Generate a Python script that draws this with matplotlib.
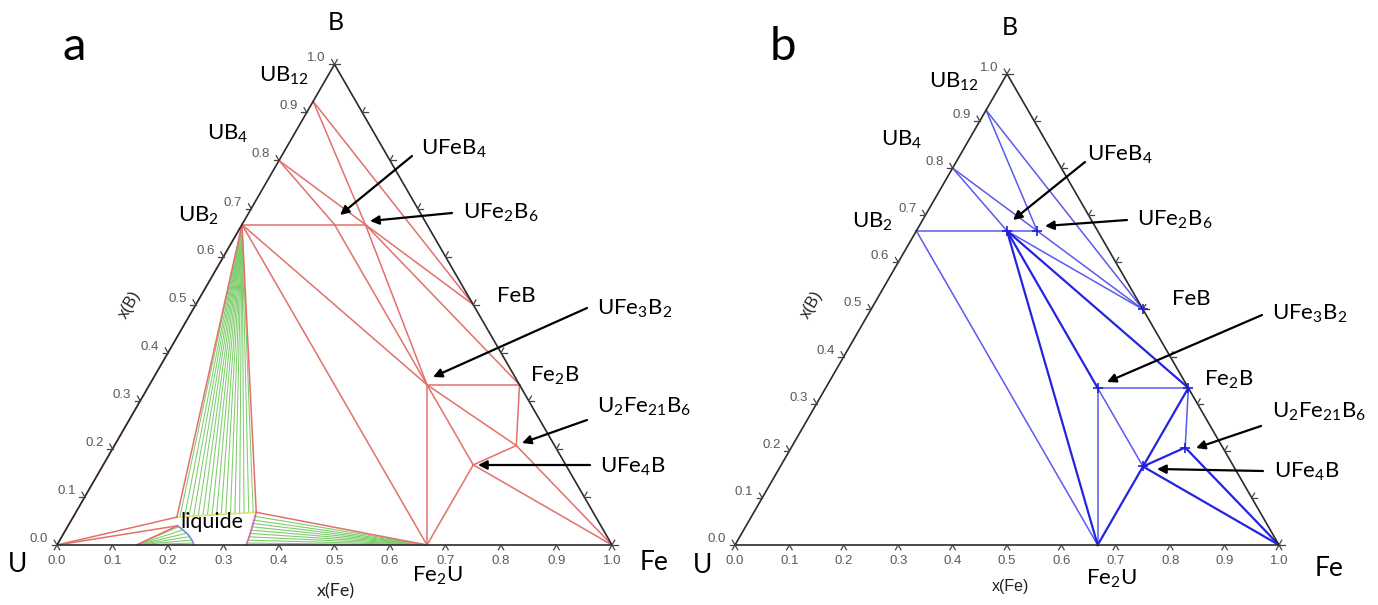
import numpy as np
import matplotlib
matplotlib.use('Agg')
import matplotlib.pyplot as plt

plt.rcParams['mathtext.fontset'] = 'custom'
plt.rcParams['mathtext.rm'] = 'Lato'
plt.rcParams['mathtext.it'] = 'Lato:italic'
plt.rcParams['font.family'] = ['Lato', 'DejaVu Sans']

# ---------------- data: phase compositions (x(Fe), x(B)) ----------------
phase_names = ['U', 'Fe', 'B', 'UB12', 'UB4', 'UB2', 'UFeB4', 'UFe2B6', 'FeB',
               'Fe2B', 'UFe3B2', 'U2Fe21B6', 'UFe4B', 'Fe2U', 'U6Fe',
               'L1', 'L2', 'L3']
phase_xfe = [0.0, 1.0, 0.0, 0.0, 0.0, 0.0, 1/6, 2/9, 0.5,
             2/3, 0.5, 21/29, 2/3, 2/3, 1/7,
             0.187, 0.197, 0.325]
phase_xb = [0.0, 0.0, 1.0, 12/13, 0.8, 2/3, 2/3, 2/3, 0.5,
            1/3, 1/3, 6/29, 1/6, 0.0, 0.0,
            0.058, 0.040, 0.068]

# panel a (calculated) tie lines
tie_a = [('UB12', 'UFe2B6'), ('UB12', 'FeB'), ('UB4', 'UFeB4'), ('UB4', 'UFe2B6'),
         ('UB2', 'UFe2B6'), ('UFe2B6', 'FeB'), ('UFe2B6', 'Fe2B'), ('UFe2B6', 'UFe3B2'),
         ('UFeB4', 'UFe3B2'), ('UB2', 'UFe3B2'), ('UB2', 'Fe2U'), ('UFe3B2', 'Fe2U'),
         ('UFe3B2', 'Fe2B'), ('UFe3B2', 'U2Fe21B6'), ('UFe3B2', 'UFe4B'),
         ('Fe2B', 'U2Fe21B6'), ('U2Fe21B6', 'UFe4B'), ('U2Fe21B6', 'Fe'),
         ('UFe4B', 'Fe'), ('UFe4B', 'Fe2U'),
         ('U', 'UB2'), ('U', 'L1'), ('U', 'L2'), ('U6Fe', 'L2'), ('UB2', 'L1'),
         ('UB2', 'L3'), ('L3', 'Fe2U')]

# green tie lines of the liquid-containing two-phase regions
fan_ub2_xfe = [0.192, 0.200, 0.208, 0.216, 0.224, 0.232, 0.240, 0.248, 0.256,
               0.264, 0.272, 0.280, 0.288, 0.296, 0.304, 0.312, 0.320]
fan_ub2_xb = [0.059, 0.060, 0.060, 0.061, 0.061, 0.062, 0.062, 0.063, 0.063,
              0.064, 0.064, 0.065, 0.065, 0.066, 0.066, 0.067, 0.067]
fan_fe2u_xfe = [0.325, 0.327, 0.329, 0.331, 0.333, 0.335, 0.337, 0.339, 0.340]
fan_fe2u_xb = [0.060, 0.052, 0.045, 0.038, 0.031, 0.024, 0.017, 0.010, 0.004]
fan_u6fe_xfe = [0.200, 0.210, 0.220, 0.229, 0.236, 0.241]
fan_u6fe_xb = [0.038, 0.031, 0.024, 0.017, 0.010, 0.004]

# liquid boundaries
liq_top_xfe = [0.187, 0.325]
liq_top_xb = [0.058, 0.068]
liq_left_xfe = [0.197, 0.212, 0.225, 0.236, 0.243, 0.246]
liq_left_xb = [0.040, 0.031, 0.022, 0.012, 0.005, 0.0]
liq_right_xfe = [0.325, 0.330, 0.334, 0.338, 0.341]
liq_right_xb = [0.068, 0.050, 0.033, 0.016, 0.0]

# panel b (experimental) tie lines
thin_b = [('UB12', 'UFe2B6'), ('UB12', 'FeB'), ('UB4', 'UFeB4'), ('UB4', 'UFe2B6'),
          ('UB2', 'UFe2B6'), ('UFe2B6', 'FeB'), ('UFeB4', 'FeB'), ('UB2', 'Fe2U'),
          ('UFe3B2', 'Fe2B'), ('UFe3B2', 'Fe2U'), ('UFe3B2', 'UFe4B'),
          ('Fe2B', 'U2Fe21B6')]
thick_b = [('UFeB4', 'Fe2U'), ('UFeB4', 'UFe3B2'), ('UFeB4', 'Fe2B'),
           ('Fe2B', 'UFe4B'), ('U2Fe21B6', 'UFe4B'), ('U2Fe21B6', 'Fe'),
           ('UFe4B', 'Fe'), ('UFe4B', 'Fe2U')]
nodes_b = ['UFeB4', 'UFe2B6', 'FeB', 'Fe2B', 'UFe3B2', 'U2Fe21B6', 'UFe4B']

tick_values = [0.0, 0.1, 0.2, 0.3, 0.4, 0.5, 0.6, 0.7, 0.8, 0.9, 1.0]
tick_labels = ['0.0', '0.1', '0.2', '0.3', '0.4', '0.5', '0.6', '0.7', '0.8', '0.9', '1.0']

# ---------------- helpers ----------------
comp = {n: (f, b) for n, f, b in zip(phase_names, phase_xfe, phase_xb)}
S3 = np.sqrt(3) / 2


def tern(xfe, xb):
    xfe = np.asarray(xfe, float)
    xb = np.asarray(xb, float)
    return xfe + xb / 2, xb * S3


W, H = 1378, 605
fig = plt.figure(figsize=(W / 100, H / 100), dpi=100)


class Panel:
    def __init__(self, x0, x1, ux, uy, s):
        self.ux, self.uy, self.s = ux, uy, s
        self.ax = fig.add_axes([x0 / W, 0, (x1 - x0) / W, 1])
        self.ax.set_xlim((x0 - ux) / s, (x1 - ux) / s)
        self.ax.set_ylim((uy - H) / s, uy / s)
        self.ax.axis('off')

    def p(self, px, py):
        return ((px - self.ux) / self.s, (self.uy - py) / self.s)


def draw_frame(P, xlab_px, xlab_size, xlab_font, xb_px):
    ax, s = P.ax, P.s
    X, Y = tern([0, 1, 0, 0], [0, 0, 1, 0])
    ax.plot(X, Y, color='#2a2a2a', lw=1.2, zorder=5, solid_capstyle='round')
    L = 5.5 / s
    tk = dict(color='#444444', lw=0.9, zorder=6)
    for v, lab in zip(tick_values, tick_labels):
        for (xf, xb, angs) in [(v, 0.0, (240, 300)), (0.0, v, (120, 180)),
                               (1 - v, v, (0, 60))]:
            x, y = tern(xf, xb)
            for a in angs:
                r = np.radians(a)
                ax.plot([x, x + L * np.cos(r)], [y, y + L * np.sin(r)], **tk)
        x, y = tern(v, 0.0)
        ax.text(x, y - 16 / s, lab, ha='center', va='center', fontsize=9.5,
                color='#5a5a5a', family='Liberation Sans')
        x, y = tern(0.0, v)
        ax.text(x - 9 / s, y + 6 / s, lab, ha='right', va='center', fontsize=9.5,
                color='#5a5a5a', family='Liberation Sans')
    ax.text(*P.p(*xlab_px), 'x(Fe)', ha='center', va='center', fontsize=xlab_size,
            color='#222222', family=xlab_font)
    ax.text(*P.p(*xb_px), 'x(B)', ha='center', va='center', fontsize=11.5,
            color='#222222', family='Liberation Sans', rotation=60)


def seg(ax, a, b, **kw):
    X, Y = tern([comp[a][0], comp[b][0]], [comp[a][1], comp[b][1]])
    ax.plot(X, Y, **kw)


def label(P, txt, px, py, size=16, **kw):
    P.ax.text(*P.p(px, py), txt, ha='left', va='baseline', fontsize=size,
              color='black', **kw)


def arrow(P, frm, to):
    P.ax.annotate('', xy=P.p(*to), xytext=P.p(*frm),
                  arrowprops=dict(arrowstyle='-|>', color='black', lw=1.6,
                                  mutation_scale=13, shrinkA=0, shrinkB=0),
                  zorder=8)


# ================= panel a =================
A = Panel(0, 689, 57, 545, 555)
axa = A.ax
red = '#e3706c'
green = '#7fcc6c'
# green tie lines
ub2 = comp['UB2']
for xf, xb in zip(fan_ub2_xfe, fan_ub2_xb):
    X, Y = tern([ub2[0], xf], [ub2[1], xb])
    axa.plot(X, Y, color=green, lw=0.75, zorder=2)
fe2u = comp['Fe2U']
for xf, xb in zip(fan_fe2u_xfe, fan_fe2u_xb):
    X, Y = tern([fe2u[0], xf], [fe2u[1], xb])
    axa.plot(X, Y, color=green, lw=0.8, zorder=2)
u6 = comp['U6Fe']
for xf, xb in zip(fan_u6fe_xfe, fan_u6fe_xb):
    X, Y = tern([u6[0], xf], [u6[1], xb])
    axa.plot(X, Y, color=green, lw=0.8, zorder=2)
# liquid boundaries
axa.plot(*tern(liq_top_xfe, liq_top_xb), color='#e4e070', lw=1.2, zorder=3)
axa.plot(*tern(liq_left_xfe, liq_left_xb), color='#6a8fd8', lw=1.2, zorder=3)
axa.plot(*tern(liq_right_xfe, liq_right_xb), color='#e060c0', lw=1.2, zorder=3)
# red tie lines
for a_, b_ in tie_a:
    seg(axa, a_, b_, color=red, lw=1.1, zorder=4)
draw_frame(A, (336, 591), 13, 'Lato', (130, 305))

label(A, 'UB$_{12}$', 259, 82)
label(A, 'UB$_4$', 207, 140)
label(A, 'UB$_2$', 178, 222)
label(A, 'UFeB$_4$', 421, 155)
label(A, 'UFe$_2$B$_6$', 463, 219)
label(A, 'FeB', 497, 302)
label(A, 'UFe$_3$B$_2$', 597, 315)
label(A, 'Fe$_2$B', 530, 382)
label(A, 'U$_2$Fe$_{21}$B$_6$', 597, 413)
label(A, 'UFe$_4$B', 600, 473)
label(A, 'Fe$_2$U', 412, 582)
label(A, 'liquide', 180, 528, size=15.5)
label(A, 'U', 8, 572, size=19)
label(A, 'Fe', 640, 570, size=19)
label(A, 'B', 328, 30, size=18)
label(A, 'a', 63, 60, size=34)

arrow(A, (412, 156), (340, 215))
arrow(A, (452, 213), (370, 221))
arrow(A, (587, 308), (433, 377))
arrow(A, (587, 420), (522, 443))
arrow(A, (590, 465), (478, 465))

# ================= panel b =================
Bp = Panel(689, 1378, 735, 545, 544)
axb = Bp.ax
for a_, b_ in thin_b:
    seg(axb, a_, b_, color='#5a5aee', lw=1.1, zorder=4)
for a_, b_ in thick_b:
    seg(axb, a_, b_, color='#2424e0', lw=1.6, zorder=4)
nx, ny = tern([comp[n][0] for n in nodes_b], [comp[n][1] for n in nodes_b])
axb.plot(nx, ny, ls='none', marker='+', ms=7, mew=1.2, color='#2020d8', zorder=7)
draw_frame(Bp, (1010, 587), 11.5, 'Liberation Sans', (812, 305))

label(Bp, 'UB$_{12}$', 929, 88)
label(Bp, 'UB$_4$', 881, 146)
label(Bp, 'UB$_2$', 852, 228)
label(Bp, 'UFeB$_4$', 1087, 161)
label(Bp, 'UFe$_2$B$_6$', 1137, 226)
label(Bp, 'FeB', 1172, 305)
label(Bp, 'UFe$_3$B$_2$', 1272, 320)
label(Bp, 'Fe$_2$B', 1204, 386)
label(Bp, 'U$_2$Fe$_{21}$B$_6$', 1272, 418)
label(Bp, 'UFe$_4$B', 1274, 478)
label(Bp, 'Fe$_2$U', 1086, 585)
label(Bp, 'U', 693, 573, size=19)
label(Bp, 'Fe', 1315, 576, size=19)
label(Bp, 'B', 1002, 35, size=18)
label(Bp, 'b', 770, 60, size=34)

arrow(Bp, (1085, 162), (1013, 220))
arrow(Bp, (1127, 220), (1045, 226))
arrow(Bp, (1262, 315), (1107, 382))
arrow(Bp, (1261, 426), (1196, 448))
arrow(Bp, (1263, 471), (1157, 469))

fig.savefig('out.png', dpi=100, facecolor='white')
